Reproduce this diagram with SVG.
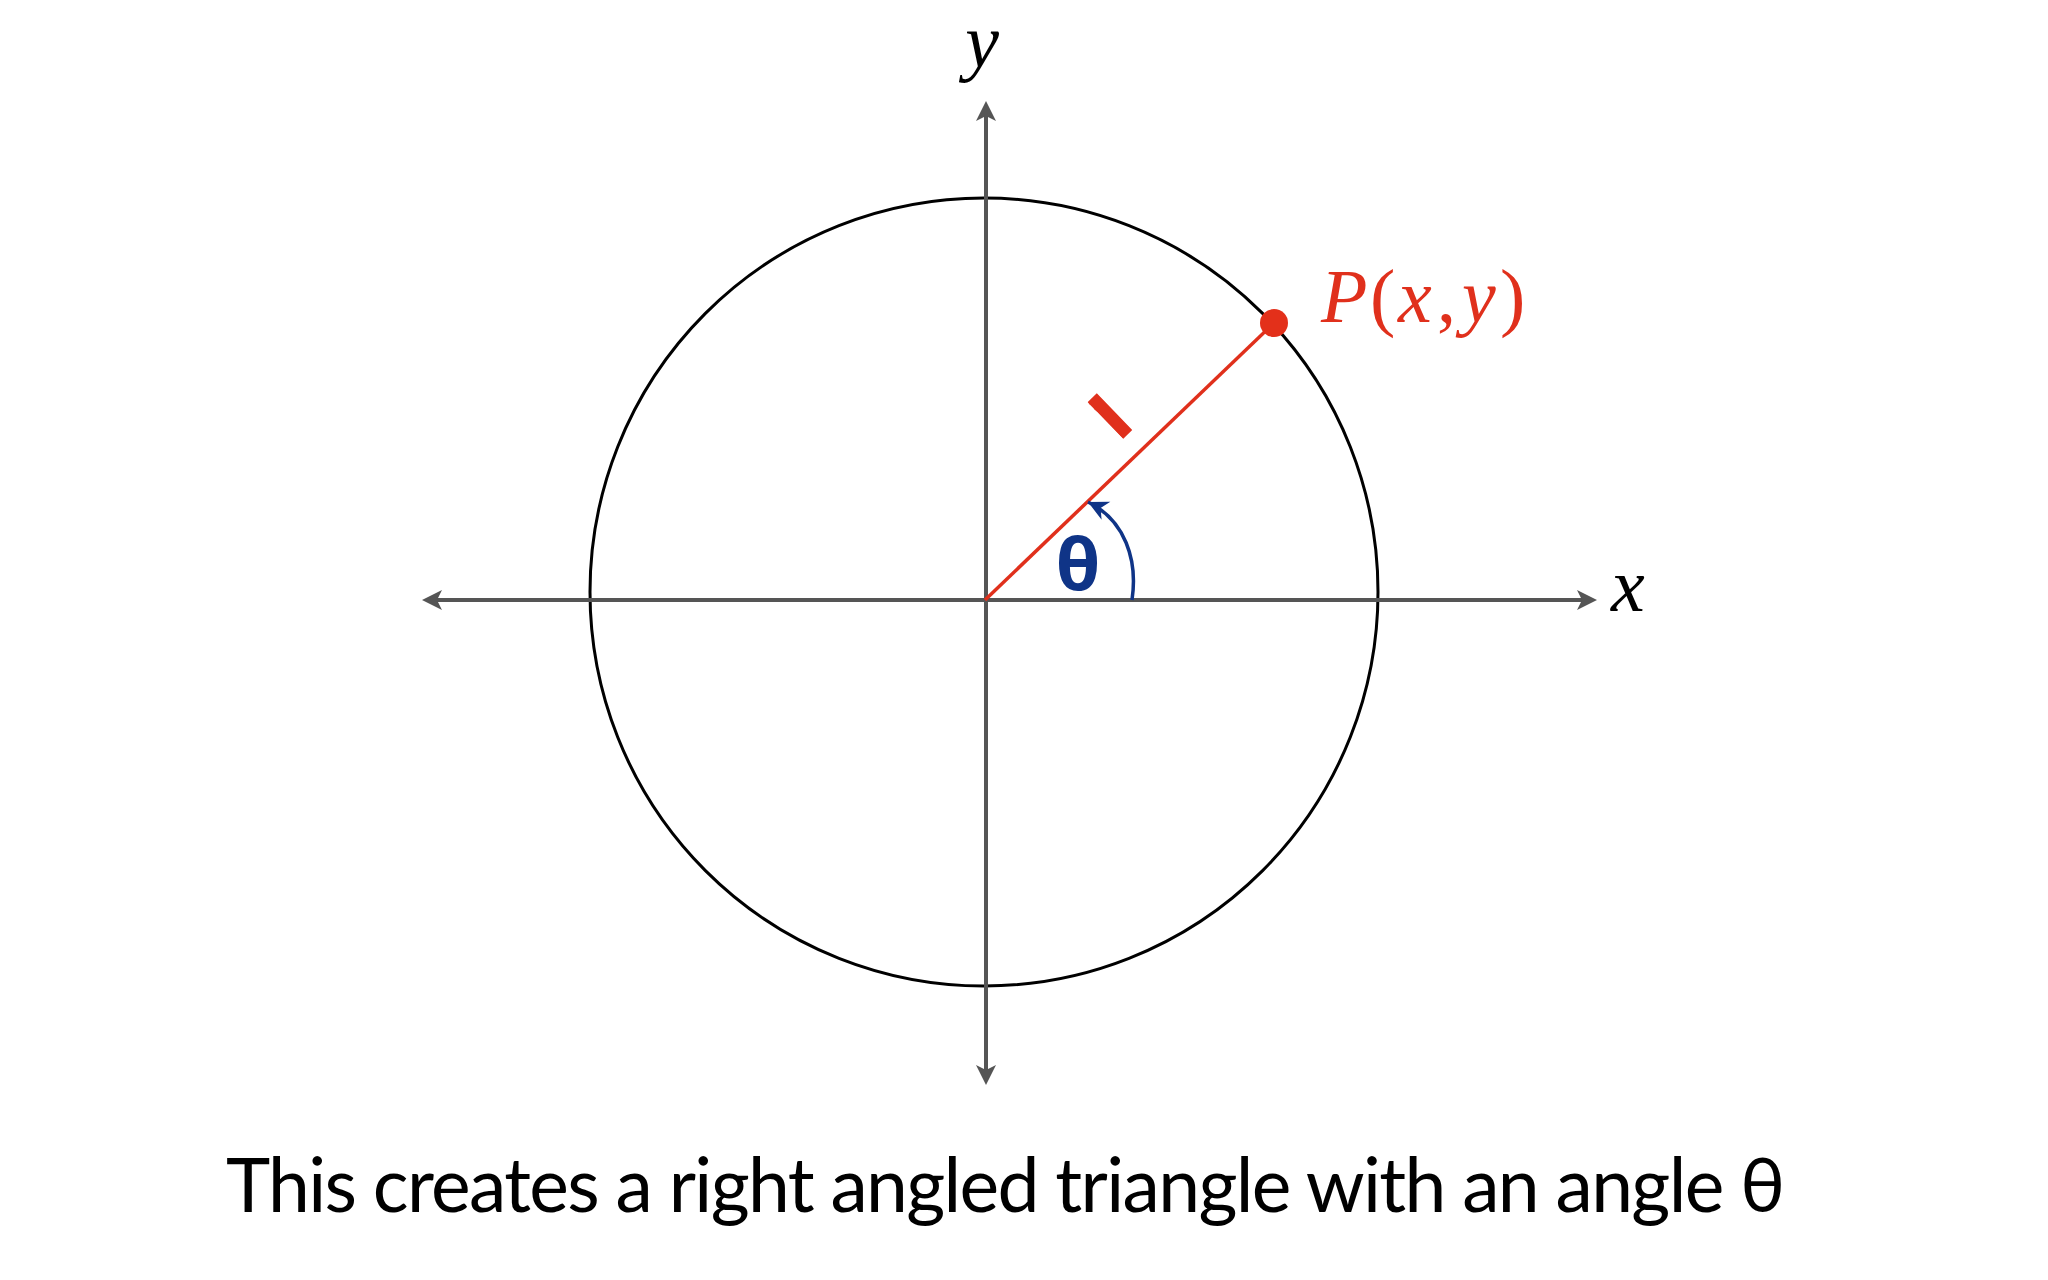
<svg xmlns="http://www.w3.org/2000/svg" width="2048" height="1280" viewBox="0 0 2048 1280">
  <style>
    .axis { stroke: #555555; stroke-width: 4; fill: none; }
    .math { font-family: "Liberation Serif", "Times New Roman", serif; font-style: italic; font-size: 76px; }
    .up { font-style: normal; }
    .red { fill: #e0301c; }
  </style>
  <defs>
    <marker id="axhead" viewBox="-22 -12 24 24" refX="-15" refY="0" markerWidth="24" markerHeight="24" markerUnits="userSpaceOnUse" orient="auto-start-reverse">
      <path d="M0,0 L-20,-10 L-15,0 L-20,10 Z" fill="#555555"/>
    </marker>
    <marker id="bluehead" viewBox="-22 -12 24 24" refX="0" refY="0" markerWidth="24" markerHeight="24" markerUnits="userSpaceOnUse" orient="auto">
      <path d="M0,0 L-20,-10 L-14,0 L-20,10 Z" fill="#0f3487"/>
    </marker>
    <clipPath id="oneclip" clipPathUnits="userSpaceOnUse">
      <rect x="-6.5" y="-30" width="13.5" height="60"/>
    </clipPath>
  </defs>
  <rect width="2048" height="1280" fill="#ffffff"/>

  <g id="circle">
    <circle cx="984" cy="592" r="394" fill="none" stroke="#000000" stroke-width="3"/>
  </g>

  <g id="connectors">
    <path id="x-axis" class="axis" d="M437,600 L1582,600" marker-start="url(#axhead)" marker-end="url(#axhead)"/>
    <path id="y-axis" class="axis" d="M986,1070 L986,116" marker-start="url(#axhead)" marker-end="url(#axhead)"/>
    <path id="radius" d="M985,600 L1274,323" stroke="#e0301c" stroke-width="3.5" fill="none"/>
    <path id="angle-arc" d="M1132,600 C1138,560 1125,520 1088,502" stroke="#0f3487" stroke-width="3.5" fill="none" marker-end="url(#bluehead)"/>
  </g>

  <g id="point-P">
    <circle cx="1274" cy="323" r="14" fill="#e3301a"/>
    <text class="math red" y="322"><tspan x="1321">P</tspan><tspan class="up" x="1370">(</tspan><tspan x="1398">x</tspan><tspan class="up" x="1437">,</tspan><tspan x="1462">y</tspan><tspan class="up" x="1500">)</tspan></text>
  </g>

  <g id="label-y">
    <text class="math" x="982" y="67" text-anchor="middle" fill="#000000">y</text>
  </g>
  <g id="label-x">
    <text class="math" x="1611" y="611" fill="#000000">x</text>
  </g>

  <g id="label-1">
    <g transform="translate(1110,416) rotate(-44)">
      <text x="-5" y="24" text-anchor="middle" clip-path="url(#oneclip)" font-family="Inter, Roboto, sans-serif" font-weight="700" font-size="66px" fill="#e0301c" stroke="#e0301c" stroke-width="3">1</text>
    </g>
  </g>

  <g id="label-theta">
    <text x="1078" y="590" text-anchor="middle" font-family="'Open Sans', sans-serif" font-weight="700" font-size="72px" fill="#0f3487">θ</text>
  </g>

  <g id="caption">
    <text x="226" y="1212" textLength="1559" lengthAdjust="spacing" font-family="Lato, 'Open Sans', sans-serif" font-size="75px" fill="#000000">This creates a right angled triangle with an angle θ</text>
  </g>
</svg>
